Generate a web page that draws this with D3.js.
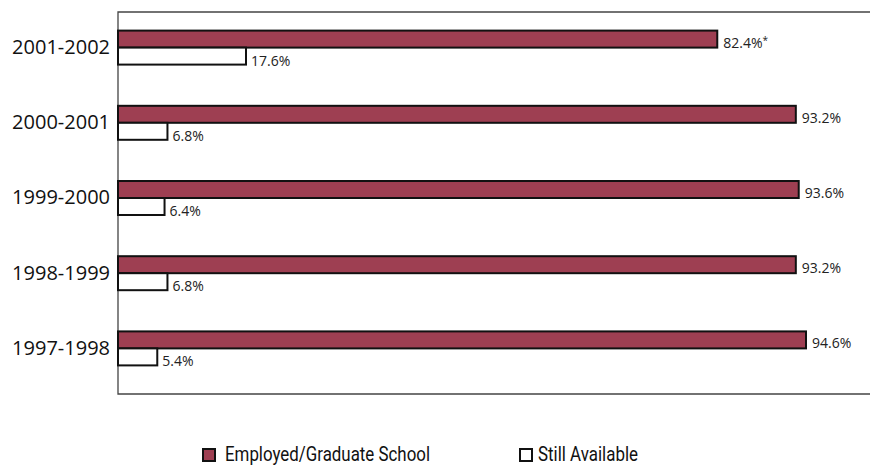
<!DOCTYPE html>
<html>
<head>
<meta charset="utf-8">
<script src="https://cdn.jsdelivr.net/npm/d3@7"></script>
<style>
  body { margin: 0; background: #fff; }
  svg { display: block; }
</style>
</head>
<body>
<div id="chart"></div>
<script>
// chart data
var years = ["2001-2002", "2000-2001", "1999-2000", "1998-1999", "1997-1998"];
var employed = [82.4, 93.2, 93.6, 93.2, 94.6];
var available = [17.6, 6.8, 6.4, 6.8, 5.4];
var employedLabels = ["82.4%*", "93.2%", "93.6%", "93.2%", "94.6%"];
var availableLabels = ["17.6%", "6.8%", "6.4%", "6.8%", "5.4%"];
var seriesNames = ["Employed/Graduate School", "Still Available"];

var svgWidth = 870;
var svgHeight = 466;

var plotLeft = 118;
var plotTop = 12;
var plotBottom = 394;

var maroon = "#9e3f52";

var svg = d3
  .select("#chart")
  .append("svg")
  .attr("width", svgWidth)
  .attr("height", svgHeight);

// scales
var xScale = d3.scaleLinear().domain([0, 103.4]).range([plotLeft, svgWidth]);

var yScale = d3
  .scaleBand()
  .domain(years)
  .range([10, 386])
  .paddingInner(0.548)
  .paddingOuter(0.274);

var ySub = d3
  .scaleBand()
  .domain(["employed", "available"])
  .range([0, yScale.bandwidth()]);

// frame
svg
  .append("path")
  .attr("d", `M${svgWidth},${plotTop}H${plotLeft}V${plotBottom}H${svgWidth}`)
  .attr("fill", "none")
  .attr("stroke", "#444")
  .attr("stroke-width", 1.3);

// rows
var rows = years.map(function (y, i) {
  return {
    year: y,
    employed: employed[i],
    available: available[i],
    employedLabel: employedLabels[i],
    availableLabel: availableLabels[i],
  };
});

var groups = svg
  .selectAll(".year")
  .data(rows)
  .enter()
  .append("g")
  .attr("class", "year")
  .attr("transform", (d) => `translate(0, ${yScale(d.year)})`);

groups
  .append("rect")
  .attr("x", xScale(0))
  .attr("y", ySub("employed"))
  .attr("width", (d) => xScale(d.employed) - xScale(0))
  .attr("height", ySub.bandwidth())
  .attr("fill", maroon)
  .attr("stroke", "#111")
  .attr("stroke-width", 2);

groups
  .append("rect")
  .attr("x", xScale(0))
  .attr("y", ySub("available"))
  .attr("width", (d) => xScale(d.available) - xScale(0))
  .attr("height", ySub.bandwidth())
  .attr("fill", "#fff")
  .attr("stroke", "#111")
  .attr("stroke-width", 2);

// value labels (a trailing * is drawn as a small footnote mark)
var empText = groups
  .append("text")
  .attr("x", (d) => xScale(d.employed) + 6)
  .attr("y", ySub("employed") + ySub.bandwidth())
  .attr("font-family", "'Open Sans', sans-serif")
  .attr("font-size", 14)
  .attr("fill", "#222");

empText.append("tspan").text((d) => d.employedLabel.replace("*", ""));
empText
  .filter((d) => d.employedLabel.endsWith("*"))
  .append("tspan")
  .attr("dy", -4)
  .attr("font-size", 10)
  .text("*");

groups
  .append("text")
  .attr("x", (d) => xScale(d.available) + 5)
  .attr("y", ySub("available") + ySub.bandwidth() + 1)
  .attr("font-family", "'Open Sans', sans-serif")
  .attr("font-size", 14)
  .attr("fill", "#222")
  .text((d) => d.availableLabel);

// category labels
var leftAxis = d3.axisLeft(yScale).tickSize(0).tickPadding(8);
var yAxis = svg
  .append("g")
  .attr("transform", `translate(${plotLeft}, 0)`)
  .call(leftAxis);
yAxis.select(".domain").remove();
yAxis
  .selectAll("text")
  .attr("font-family", "'Open Sans', sans-serif")
  .attr("font-size", 20)
  .attr("fill", "#111");

// legend
var legendX = [202, 519];
var legendFill = [maroon, "#fff"];
var legendTextX = [23, 19];
var legendTextW = [205, 100];
var legend = svg
  .selectAll(".legend")
  .data(seriesNames)
  .enter()
  .append("g")
  .attr("class", "legend")
  .attr("transform", (d, i) => `translate(${legendX[i]}, 448)`);

legend
  .append("rect")
  .attr("x", 1)
  .attr("y", 1)
  .attr("width", 12)
  .attr("height", 12)
  .attr("fill", (d, i) => legendFill[i])
  .attr("stroke", "#111")
  .attr("stroke-width", 2);

legend
  .append("text")
  .attr("x", (d, i) => legendTextX[i])
  .attr("y", 13)
  .attr("font-family", "Roboto, sans-serif")
  .attr("font-size", 21)
  .attr("textLength", (d, i) => legendTextW[i])
  .attr("lengthAdjust", "spacingAndGlyphs")
  .attr("fill", "#111")
  .text((d) => d);
</script>
</body>
</html>
